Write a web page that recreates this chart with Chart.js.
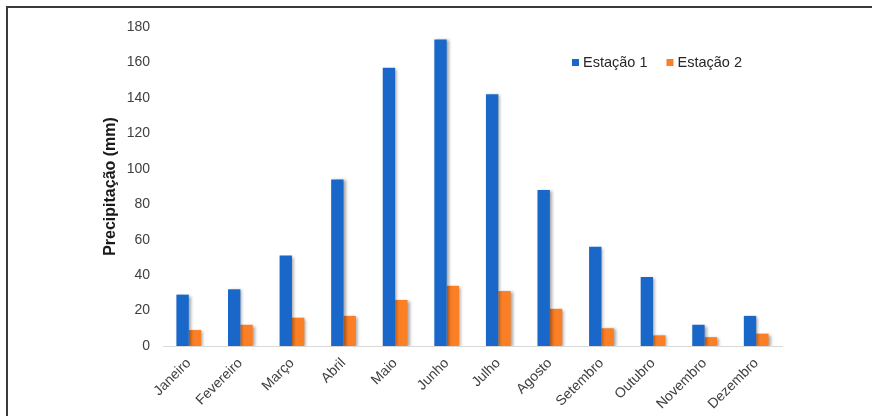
<!DOCTYPE html>
<html>
<head>
<meta charset="utf-8">
<script src="https://cdn.jsdelivr.net/npm/chart.js@4/dist/chart.umd.min.js"></script>
<style>
  html, body { margin: 0; padding: 0; background: #ffffff; }
  #wrap { width: 872px; height: 416px; position: relative; }
</style>
</head>
<body>
<div id="wrap"><canvas id="chart" width="872" height="416"></canvas></div>
<script>
// Monthly rainfall (mm) for two stations
const meses = ['Janeiro', 'Fevereiro', 'Março', 'Abril', 'Maio', 'Junho',
               'Julho', 'Agosto', 'Setembro', 'Outubro', 'Novembro', 'Dezembro'];
const estacao1 = [29, 32, 51, 94, 157, 173, 142, 88, 56, 39, 12, 17];
const estacao2 = [9, 12, 16, 17, 26, 34, 31, 21, 10, 6, 5, 7];
const nomesSeries = ['Estação 1', 'Estação 2'];
const coresSeries = ['#1867c9', '#fb7f25'];
const yMax = 180;
const yPasso = 20;

const fonte = "'Liberation Sans', Arial, sans-serif";

// Frame: dark line along the top and left edges
const moldura = {
  id: 'moldura',
  beforeDraw(chart) {
    const ctx = chart.ctx;
    ctx.save();
    ctx.strokeStyle = '#3a3a3a';
    ctx.lineWidth = 2;
    ctx.beginPath();
    ctx.moveTo(7, 416);
    ctx.lineTo(7, 7);
    ctx.lineTo(872, 7);
    ctx.stroke();
    ctx.restore();
  }
};

// Soft drop shadow under the bars
const sombra = {
  id: 'sombra',
  beforeDatasetsDraw(chart) {
    const ctx = chart.ctx;
    ctx.save();
    ctx.shadowColor = 'rgba(0,0,0,0.35)';
    ctx.shadowBlur = 3;
    ctx.shadowOffsetX = 2;
    ctx.shadowOffsetY = 1;
  },
  afterDatasetsDraw(chart) {
    chart.ctx.restore();
  }
};

// Legend drawn inside the plot, upper right
const legenda = {
  id: 'legenda',
  afterDraw(chart) {
    const ctx = chart.ctx;
    ctx.save();
    ctx.font = '14.5px ' + fonte;
    ctx.textBaseline = 'middle';
    let x = 572;
    const y = 62.5;
    chart.data.datasets.forEach((ds, i) => {
      ctx.fillStyle = ds.backgroundColor;
      ctx.fillRect(x, y - 3.5, 7, 7);
      ctx.fillStyle = '#262626';
      ctx.fillText(ds.label, x + 11, y);
      x += 11 + ctx.measureText(ds.label).width + 19;
    });
    ctx.restore();
  }
};

new Chart(document.getElementById('chart'), {
  type: 'bar',
  data: {
    labels: meses,
    datasets: [
      { label: nomesSeries[0], data: estacao1, backgroundColor: coresSeries[0] },
      { label: nomesSeries[1], data: estacao2, backgroundColor: coresSeries[1] }
    ]
  },
  plugins: [moldura, sombra, legenda],
  options: {
    responsive: false,
    animation: false,
    devicePixelRatio: 1,
    layout: { padding: { left: 101, right: 90, top: 27, bottom: 0 } },
    datasets: { bar: { barPercentage: 1, categoryPercentage: 0.48 } },
    plugins: {
      legend: { display: false },
      tooltip: { enabled: false }
    },
    scales: {
      x: {
        grid: { display: false, drawTicks: false },
        border: { display: true, color: '#d9d9d9', width: 1 },
        ticks: {
          minRotation: 45, maxRotation: 45, padding: 9,
          color: '#404040', font: { family: fonte, size: 14 }
        },
        afterFit(scale) { scale.height = 70; }
      },
      y: {
        min: 0, max: yMax,
        grid: { display: false, drawTicks: false },
        border: { display: false },
        ticks: {
          stepSize: yPasso, padding: 13,
          color: '#404040', font: { family: fonte, size: 14 }
        },
        title: {
          display: true, text: 'Precipitação (mm)',
          color: '#1a1a1a', padding: 0,
          font: { family: fonte, size: 16, weight: 'bold' }
        },
        afterFit(scale) { scale.width = 62; }
      }
    }
  }
});
</script>
</body>
</html>
